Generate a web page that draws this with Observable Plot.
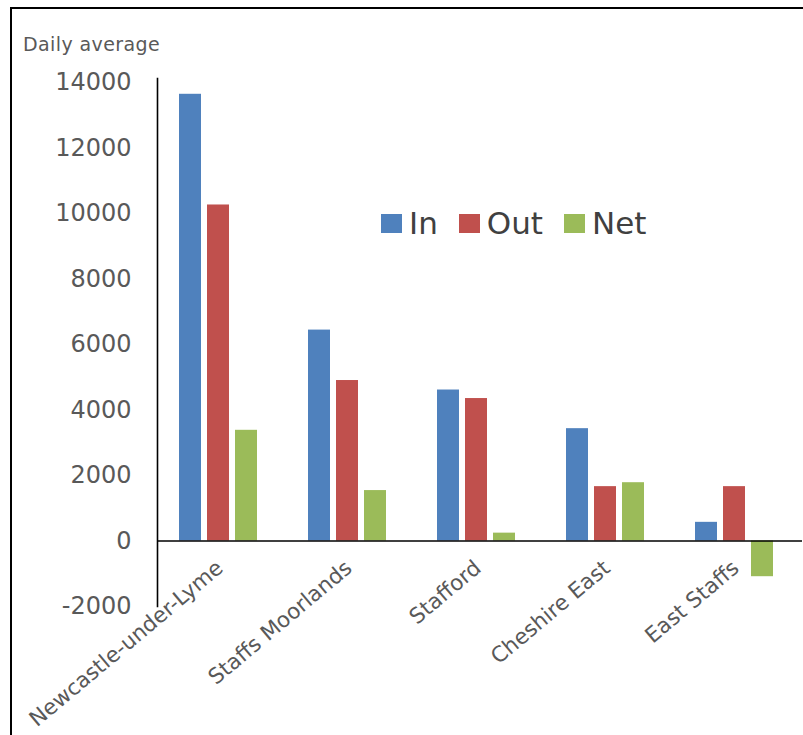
<!DOCTYPE html>
<html>
<head>
<meta charset="utf-8">
<script src="https://cdn.jsdelivr.net/npm/d3@7"></script>
<script src="https://cdn.jsdelivr.net/npm/@observablehq/plot@0.6"></script>
<style>
  html, body { margin: 0; padding: 0; background: #fff; }
  #wrap { position: relative; width: 803px; height: 735px; overflow: hidden; }
  #chart { position: absolute; left: 0; top: 0; }
  #border { position: absolute; left: 9.5px; top: 7px; width: 820px; height: 760px;
            border-left: 2px solid #000; border-top: 2px solid #000; pointer-events: none; }
  #ylabel { position: absolute; left: 23px; top: 35px; font-family: "DejaVu Sans"; font-size: 19px;
            line-height: 1; color: #595959; white-space: nowrap; letter-spacing: 0.4px; }
  #legend { position: absolute; left: 381px; top: 205px; }
  #legend .lg-swatch { margin-right: 21px !important; }
  #legend .lg-swatch > svg { margin-right: 7px !important; }
</style>
</head>
<body>
<div id="wrap">
  <div id="chart"></div>
  <div id="ylabel">Daily average</div>
  <div id="legend"></div>
  <div id="border"></div>
</div>
<script>
const districts = ["Newcastle-under-Lyme", "Staffs Moorlands", "Stafford", "Cheshire East", "East Staffs"];
const series = ["In", "Out", "Net"];
const inValues = [13640, 6440, 4610, 3430, 570];
const outValues = [10260, 4900, 4350, 1660, 1660];
const netValues = [3380, 1540, 240, 1780, -1090];
const yTicks = [-2000, 0, 2000, 4000, 6000, 8000, 10000, 12000, 14000];
const colors = ["#4F81BD", "#C0504D", "#9BBB59"];

const rows = districts.flatMap((d, i) => [
  {district: d, series: "In", value: inValues[i]},
  {district: d, series: "Out", value: outValues[i]},
  {district: d, series: "Net", value: netValues[i]}
]);

const chart = Plot.plot({
  width: 803,
  height: 735,
  marginLeft: 155,
  marginRight: 0,
  marginTop: 82,
  marginBottom: 129,
  style: {fontFamily: "DejaVu Sans", background: "transparent", overflow: "visible"},
  fx: {domain: districts, padding: 0, axis: null},
  x: {domain: series, paddingInner: 0.2, paddingOuter: 0.866, align: 0.444, axis: null},
  y: {domain: [-2000, 14000]},
  color: {domain: series, range: colors},
  marks: [
    Plot.barY(rows, {fx: "district", x: "series", y: "value", fill: "series"}),
    Plot.ruleY([0], {stroke: "#000", strokeWidth: 1.6}),
    Plot.frame({anchor: "left", facet: "super", stroke: "#000", strokeWidth: 1.6, insetTop: -4}),
    Plot.axisY(yTicks, {tickSize: 0, tickPadding: 26, tickFormat: d => String(d), label: null,
                        fontSize: 24, fill: "#595959"}),
    Plot.text(districts, {fx: d => d, y: () => 0, text: d => d, rotate: -40, textAnchor: "end",
                          dx: -2, dy: 24, fontSize: 21.5, fill: "#595959"})
  ]
});
document.getElementById("chart").appendChild(chart);

const legend = Plot.legend({
  color: {domain: series, range: colors},
  legend: "swatches",
  swatchWidth: 21,
  swatchHeight: 19,
  className: "lg",
  style: {fontFamily: "DejaVu Sans", fontSize: "31px", color: "#404040", margin: "0"}
});
document.getElementById("legend").appendChild(legend);
</script>
</body>
</html>
